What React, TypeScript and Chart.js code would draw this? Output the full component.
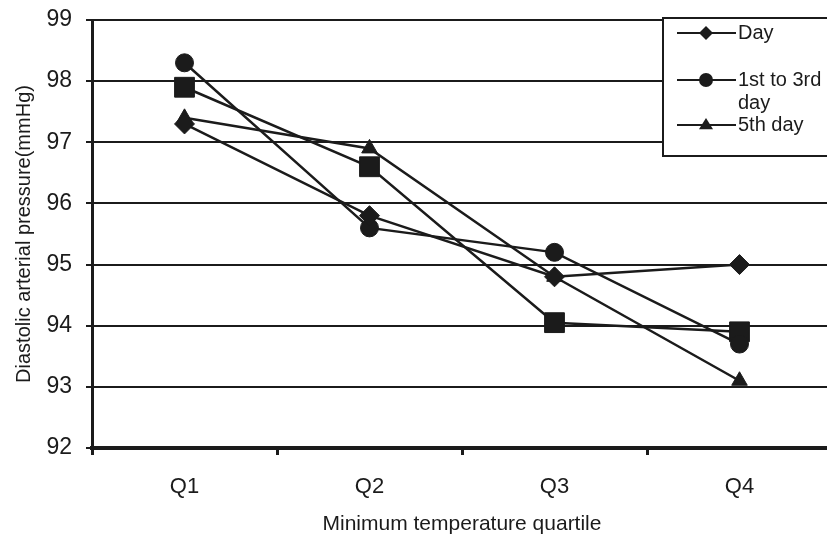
import React, { useEffect, useRef } from "react";
import { Chart, registerables } from "chart.js";

Chart.register(...registerables);

const categories = ["Q1", "Q2", "Q3", "Q4"];
const dayValues = [97.3, 95.8, 94.8, 95.0];
const firstToThirdValues = [98.3, 95.6, 95.2, 93.7];
const fifthDayValues = [97.4, 96.9, 94.8, 93.1];
const unlabelledValues = [97.9, 96.6, 94.05, 93.9];
const yMin = 92;
const yMax = 99;

const legendItems = [
  { text: ["Day"], style: "rectRot", radius: 7 },
  { text: ["1st to 3rd", "day"], style: "circle", radius: 7 },
  { text: ["5th day"], style: "triangle", radius: 7 },
];

const FONT = "'Liberation Sans', Arial, sans-serif";
const INK = "#1b1b1b";

function drawMarker(ctx: CanvasRenderingContext2D, style: string, r: number, x: number, y: number) {
  ctx.beginPath();
  if (style === "rectRot") {
    ctx.moveTo(x - r, y);
    ctx.lineTo(x, y - r);
    ctx.lineTo(x + r, y);
    ctx.lineTo(x, y + r);
    ctx.closePath();
  } else if (style === "circle") {
    ctx.arc(x, y, r, 0, Math.PI * 2);
  } else if (style === "triangle") {
    ctx.moveTo(x - r, y + r * 0.6);
    ctx.lineTo(x, y - r);
    ctx.lineTo(x + r, y + r * 0.6);
    ctx.closePath();
  }
  ctx.fill();
}

const legendPlugin = {
  id: "boxLegend",
  afterDraw(chart: any) {
    const ctx = chart.ctx;
    ctx.save();
    const bx = 663, by = 18, bw = 200, bh = 138;
    ctx.fillStyle = "#ffffff";
    ctx.fillRect(bx, by, bw, bh);
    ctx.strokeStyle = INK;
    ctx.lineWidth = 2;
    ctx.strokeRect(bx, by, bw, bh);
    const rows = [33, 80, 125];
    legendItems.forEach((item, i) => {
      const y = rows[i];
      ctx.strokeStyle = INK;
      ctx.lineWidth = 2;
      ctx.beginPath();
      ctx.moveTo(677, y);
      ctx.lineTo(736, y);
      ctx.stroke();
      ctx.fillStyle = INK;
      drawMarker(ctx, item.style, item.radius, 706, y);
      ctx.fillStyle = INK;
      ctx.font = `20px ${FONT}`;
      ctx.textBaseline = "middle";
      ctx.textAlign = "left";
      item.text.forEach((t, j) => {
        ctx.fillText(t, 738, y + j * 23);
      });
    });
    ctx.restore();
  },
};

function series(label: string, data: number[], pointStyle: string, radius: number) {
  return {
    label,
    data,
    pointStyle,
    pointRadius: radius,
    pointHoverRadius: radius,
    borderColor: INK,
    backgroundColor: INK,
    pointBackgroundColor: INK,
    pointBorderColor: INK,
    pointBorderWidth: 1,
    borderWidth: 2.5,
    tension: 0,
    fill: false,
  };
}

export default function App() {
  const ref = useRef<HTMLCanvasElement>(null);
  useEffect(() => {
    if (!ref.current) return;
    const chart = new Chart(ref.current, {
      type: "line",
      data: {
        labels: categories,
        datasets: [
          series("Day", dayValues, "rectRot", 10),
          series("1st to 3rd day", firstToThirdValues, "circle", 9),
          series("5th day", fifthDayValues, "triangle", 9),
          series("(unlabelled)", unlabelledValues, "rect", 14),
        ] as any,
      },
      options: {
        responsive: false,
        animation: false,
        events: [],
        layout: { padding: { top: 20, right: 18, left: 0, bottom: 0 } },
        plugins: {
          legend: { display: false },
          tooltip: { enabled: false },
          title: { display: false },
        },
        scales: {
          x: {
            type: "category",
            offset: true,
            afterFit(scale: any) {
              scale.height = 89;
              scale.paddingLeft = 0;
              scale.paddingRight = 0;
            },
            border: { display: true, color: INK, width: 4 },
            grid: {
              offset: true,
              drawOnChartArea: false,
              drawTicks: true,
              tickLength: 7,
              color: INK,
              lineWidth: 3,
            },
            ticks: {
              color: INK,
              font: { family: FONT, size: 22 },
              padding: 19,
            },
            title: {
              display: true,
              text: "Minimum temperature quartile",
              color: INK,
              font: { family: FONT, size: 21 },
              padding: { top: 0, bottom: 0 },
            },
          },
          y: {
            min: yMin,
            max: yMax,
            afterFit(scale: any) {
              scale.width = 92;
              scale.paddingTop = 0;
              scale.paddingBottom = 0;
            },
            border: { display: true, color: INK, width: 3 },
            grid: {
              color: INK,
              lineWidth: 2,
              drawTicks: true,
              tickLength: 6,
            },
            ticks: {
              stepSize: 1,
              color: INK,
              font: { family: FONT, size: 23 },
              padding: 14,
            },
            title: {
              display: true,
              text: "Diastolic arterial pressure(mmHg)",
              color: INK,
              font: { family: FONT, size: 20 },
              padding: { top: 12, bottom: 0 },
            },
          },
        },
      } as any,
      plugins: [legendPlugin],
    });
    return () => chart.destroy();
  }, []);

  return (
    <div
      style={{
        position: "fixed",
        left: 0,
        top: 0,
        width: 827,
        height: 537,
        overflow: "hidden",
        background: "#ffffff",
      }}
    >
      <canvas ref={ref} width={850} height={537} style={{ display: "block" }} />
    </div>
  );
}
